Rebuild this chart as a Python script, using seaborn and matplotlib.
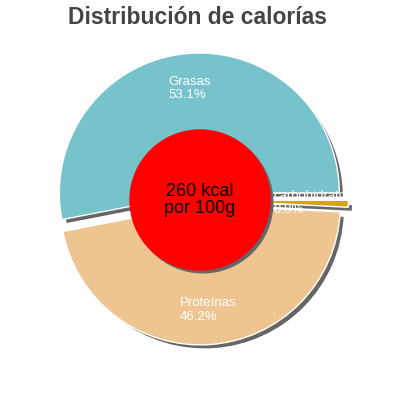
import matplotlib
matplotlib.use("Agg")
import matplotlib.pyplot as plt
import matplotlib.patches as mpatches
import numpy as np
import seaborn as sns

sns.set_theme(style="white")
plt.rcParams["font.family"] = ["Liberation Sans", "DejaVu Sans"]

# data (counterclockwise from the right side)
labels = ["carbohidratos", "Grasas", "Proteínas"]
values = [0.8, 53.1, 46.2]
colors = ["#D5A21E", "#77C3CB", "#EEC591"]
explode = [0.06, 0.05, 0.035]
center_lines = ["260 kcal", "por 100g"]
title = "Distribución de calorías"

fig = plt.figure(figsize=(4, 4), dpi=100)
ax = fig.add_axes([0, 0, 1, 1])

# shadow pie, shifted down-right
ax.pie(values, explode=explode, startangle=-2.9, colors=["#666666"] * 3,
       center=(0.03, -0.03), radius=1.0, frame=True)
wedges, _ = ax.pie(values, explode=explode, startangle=-2.9, colors=colors,
                   radius=1.0, frame=True)
ax.set_xlim(-200 / 140, 200 / 140)
ax.set_ylim(-200 / 140, 200 / 140)
ax.set_aspect("equal")
ax.axis("off")

for w, lab, val in zip(wedges, labels, values):
    th = np.deg2rad((w.theta1 + w.theta2) / 2)
    cx, cy = w.center
    r = 0.75
    ax.text(cx + r * np.cos(th), cy + r * np.sin(th), f"{lab}\n{val}%",
            ha="center", va="center", multialignment="left",
            color="white", fontsize=9.5, zorder=5)

# red centre disc with shadow
ax.add_patch(mpatches.Circle((0.02, -0.02), 0.5, color="#666666", zorder=3))
ax.add_patch(mpatches.Circle((0, 0), 0.5, color="#FF0000", zorder=4))
ax.text(0, 0, "\n".join(center_lines), ha="center", va="center",
        fontsize=13, color="black", zorder=6, linespacing=1.0)

fig.text(0.495, 0.955, title, ha="center", va="center", fontsize=16.5,
         fontweight="bold", color="#444444")

fig.savefig("out.png", dpi=100)
